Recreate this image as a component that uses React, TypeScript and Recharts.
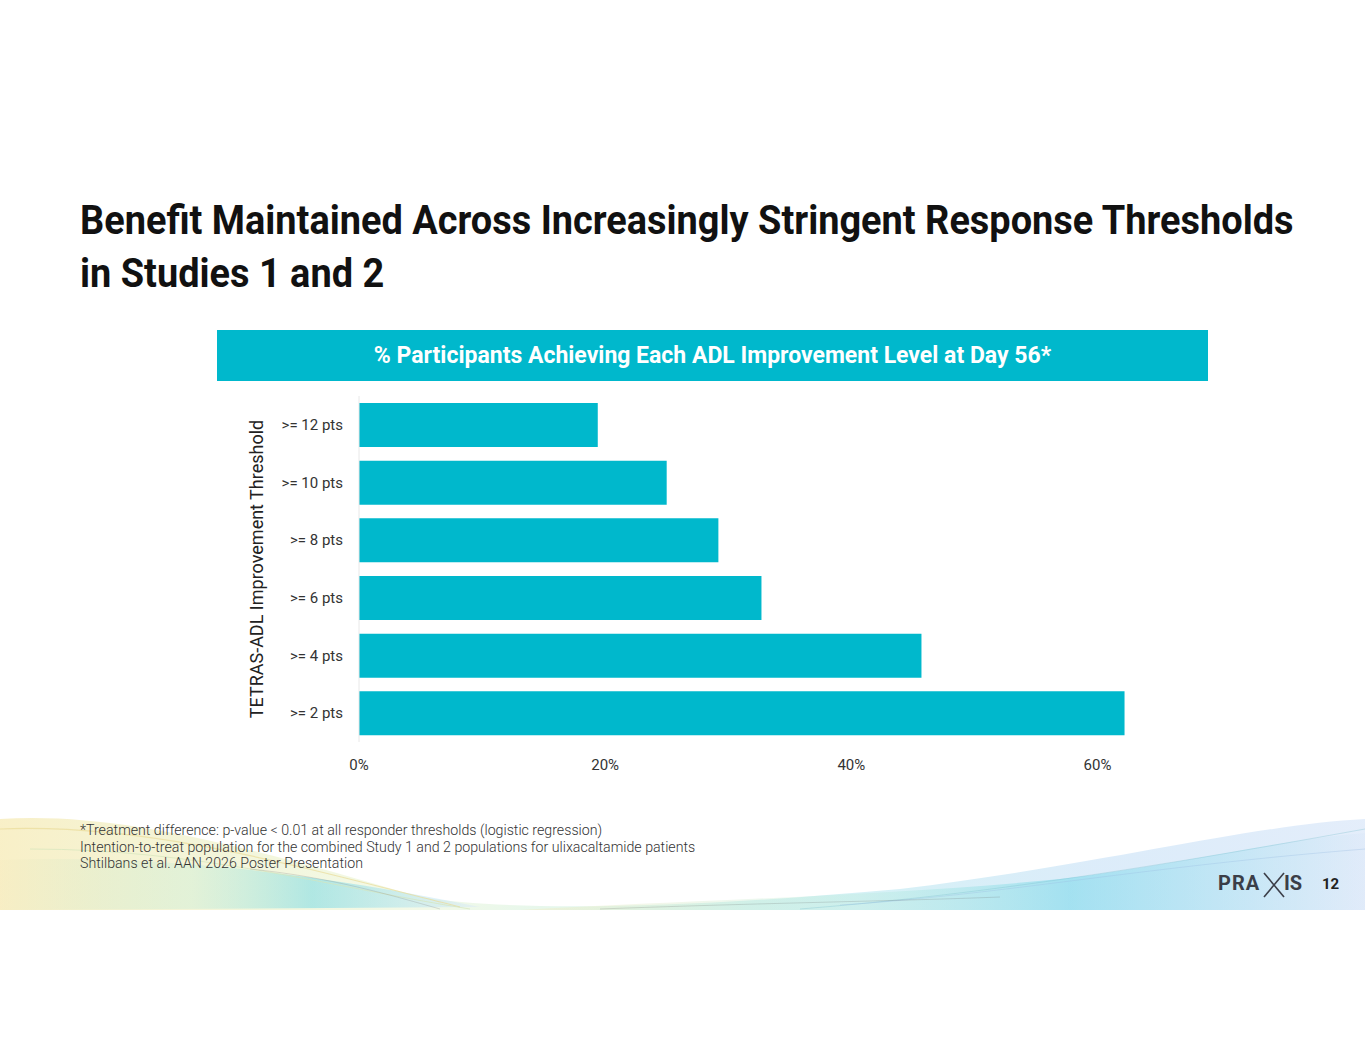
import React from 'react';
import { BarChart, Bar, XAxis, YAxis } from 'recharts';

// thresholds top to bottom, values in % of participants
const thresholds = ['>= 12 pts', '>= 10 pts', '>= 8 pts', '>= 6 pts', '>= 4 pts', '>= 2 pts'];
const responders = [19.4, 25.0, 29.2, 32.7, 45.7, 62.2];
const xTicks = [0, 20, 40, 60];

const footnotes = [
  '*Treatment difference: p-value < 0.01 at all responder thresholds (logistic regression)',
  'Intention-to-treat population for the combined Study 1 and 2 populations for ulixacaltamide patients',
  'Shtilbans et al. AAN 2026 Poster Presentation',
];

const TEAL = '#00B8CC';
const FONT = 'Roboto, "Noto Sans", sans-serif';

const data = thresholds.map((t, i) => ({ name: t, value: responders[i] }));

function Waves() {
  return (
    <svg width={1365} height={110} style={{ position: 'absolute', left: 0, top: 805 }}>
      <defs>
        <linearGradient id="wv1" x1="0" x2="1" y1="0" y2="0">
          <stop offset="0" stopColor="#f3e39a" stopOpacity="0.55" />
          <stop offset="0.3" stopColor="#d6ecb0" stopOpacity="0.3" />
          <stop offset="0.55" stopColor="#7fdde0" stopOpacity="0.35" />
          <stop offset="0.8" stopColor="#a8d0f2" stopOpacity="0.4" />
          <stop offset="1" stopColor="#c9dcf6" stopOpacity="0.5" />
        </linearGradient>
        <linearGradient id="wv2" x1="0" x2="1" y1="0" y2="0">
          <stop offset="0" stopColor="#f6ecc0" stopOpacity="0.45" />
          <stop offset="0.4" stopColor="#b9ead8" stopOpacity="0.3" />
          <stop offset="0.65" stopColor="#5fd3e6" stopOpacity="0.45" />
          <stop offset="1" stopColor="#dce8f8" stopOpacity="0.45" />
        </linearGradient>
      </defs>
      <path d="M0 14 C 120 6, 260 45, 420 92 C 520 108, 700 102, 900 84 C 1100 60, 1250 20, 1365 14 L 1365 105 L 0 105 Z" fill="url(#wv1)" />
      <path d="M0 55 C 150 50, 300 65, 480 102 L 0 105 Z" fill="url(#wv2)" />
      <path d="M520 105 C 700 95, 900 90, 1060 74 C 1180 60, 1280 34, 1365 28 L 1365 105 Z" fill="url(#wv2)" />
      <path d="M0 24 C 150 18, 300 62, 460 102" stroke="#eadc98" strokeWidth="1.2" fill="none" opacity="0.7" />
      <path d="M30 44 C 200 44, 330 82, 470 104" stroke="#d4e6bc" strokeWidth="1" fill="none" opacity="0.7" />
      <path d="M250 64 C 330 72, 390 90, 440 104" stroke="#888" strokeWidth="0.7" fill="none" opacity="0.4" />
      <path d="M800 104 C 950 92, 1100 72, 1365 24" stroke="#7fc0cf" strokeWidth="0.7" fill="none" opacity="0.5" />
      <path d="M840 100 C 1000 90, 1140 62, 1365 44" stroke="#9bbee3" strokeWidth="0.7" fill="none" opacity="0.5" />
      <path d="M600 104 C 760 98, 900 96, 1000 92" stroke="#666" strokeWidth="0.7" fill="none" opacity="0.3" />
    </svg>
  );
}

function Logo() {
  return (
    <svg width={140} height={40} style={{ position: 'absolute', left: 1210, top: 864 }}>
      <text x={8} y={26} fontFamily={FONT} fontWeight={700} fontSize={20} fill="#3b3e48" letterSpacing={1}>PRA</text>
      <path d="M54 9 L 74 33" stroke="#3b3e48" strokeWidth={1.6} />
      <path d="M74 9 L 54 33" stroke="#3b3e48" strokeWidth={1.6} />
      <text x={74} y={26} fontFamily={FONT} fontWeight={700} fontSize={20} fill="#3b3e48">IS</text>
      <text x={112} y={25} fontFamily={FONT} fontWeight={700} fontSize={15} fill="#222">12</text>
    </svg>
  );
}

export default function App() {
  return (
    <div
      style={{
        position: 'absolute',
        left: 0,
        top: 0,
        width: 1365,
        height: 1055,
        background: '#fff',
        overflow: 'hidden',
        fontFamily: FONT,
      }}
    >
      <div
        style={{
          position: 'absolute',
          left: 80,
          top: 194,
          fontSize: 41,
          fontWeight: 700,
          lineHeight: '53px',
          color: '#111',
          whiteSpace: 'nowrap',
          transform: 'scaleX(0.925)',
          transformOrigin: 'left top',
        }}
      >
        Benefit Maintained Across Increasingly Stringent Response Thresholds
        <br />
        in Studies 1 and 2
      </div>

      <div
        style={{
          position: 'absolute',
          left: 217,
          top: 330,
          width: 991,
          height: 51,
          background: TEAL,
          display: 'flex',
          alignItems: 'center',
          justifyContent: 'center',
        }}
      >
        <span
          style={{
            color: '#fff',
            fontWeight: 700,
            fontSize: 23,
            whiteSpace: 'nowrap',
          }}
        >
          % Participants Achieving Each ADL Improvement Level at Day 56*
        </span>
      </div>

      <div style={{ position: 'absolute', left: 0, top: 380 }}>
        <BarChart
          width={1200}
          height={402}
          data={data}
          layout="vertical"
          margin={{ top: 16, right: 41, left: 0, bottom: 10 }}
        >
          <XAxis
            type="number"
            domain={[0, 65]}
            ticks={xTicks}
            tickFormatter={(v: number) => `${v}%`}
            axisLine={false}
            tickLine={false}
            tickMargin={11}
            tick={{ fill: '#333', fontSize: 15, fontFamily: FONT }}
            height={30}
          />
          <YAxis
            type="category"
            dataKey="name"
            width={359}
            axisLine={{ stroke: '#e8e8e8' }}
            tickLine={false}
            tickMargin={10}
            tick={{ fill: '#333', fontSize: 15, fontFamily: FONT }}
            label={{
              value: 'TETRAS-ADL Improvement Threshold',
              angle: -90,
              position: 'insideLeft',
              offset: 257,
              style: { fill: '#222', fontSize: 18, fontFamily: FONT, textAnchor: 'middle' },
            }}
          />
          <Bar dataKey="value" fill={TEAL} barSize={44} isAnimationActive={false} />
        </BarChart>
      </div>

      <Waves />

      <div
        style={{
          position: 'absolute',
          left: 80,
          top: 822,
          fontSize: 14.2,
          fontWeight: 300,
          lineHeight: '16.5px',
          color: '#333',
          whiteSpace: 'nowrap',
        }}
      >
        {footnotes.map((f) => (
          <div key={f}>{f}</div>
        ))}
      </div>

      <Logo />
    </div>
  );
}
